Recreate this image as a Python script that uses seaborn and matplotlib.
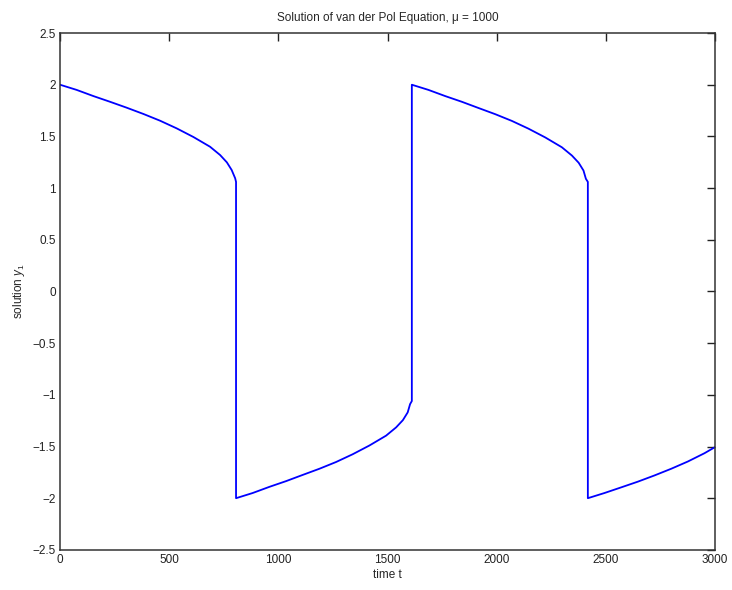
import matplotlib
matplotlib.use('Agg')
from matplotlib import pyplot as plt
import seaborn as sns

# time points and solution y1
# (a repeated t value is one of the near-vertical jumps)
t = [0, 76, 153, 229, 305, 382, 458, 534, 611, 687, 733, 764, 786, 802, 806,
     806, 882, 959, 1035, 1111, 1188, 1264, 1340, 1417, 1493, 1539, 1570, 1592, 1603, 1611,
     1611, 1687, 1764, 1840, 1916, 1993, 2069, 2145, 2222, 2298, 2344, 2375, 2397, 2408, 2417,
     2417, 2493, 2570, 2646, 2722, 2799, 2875, 2951, 3000]
y1 = [2.00, 1.95, 1.89, 1.835, 1.778, 1.717, 1.652, 1.578, 1.494, 1.40, 1.32, 1.249, 1.175, 1.095, 1.06,
      -2.00, -1.95, -1.89, -1.835, -1.775, -1.715, -1.65, -1.575, -1.49, -1.395, -1.315, -1.245, -1.17, -1.09, -1.06,
      2.00, 1.95, 1.89, 1.835, 1.775, 1.715, 1.65, 1.575, 1.49, 1.395, 1.315, 1.245, 1.17, 1.09, 1.06,
      -2.00, -1.95, -1.895, -1.84, -1.78, -1.715, -1.645, -1.565, -1.505]

x_ticks = [0, 500, 1000, 1500, 2000, 2500, 3000]
y_ticks = [-2.5, -2, -1.5, -1, -0.5, 0, 0.5, 1, 1.5, 2, 2.5]
y_labels = ['\u22122.5', '\u22122', '\u22121.5', '\u22121', '\u22120.5', '0',
            '0.5', '1', '1.5', '2', '2.5']

sns.set_style('white')
plt.rcParams['font.family'] = ['Liberation Sans', 'DejaVu Sans']
plt.rcParams['mathtext.fontset'] = 'custom'
plt.rcParams['mathtext.it'] = 'Liberation Sans:italic'
plt.rcParams['mathtext.rm'] = 'Liberation Sans'

fig = plt.figure(figsize=(7.32, 5.90), dpi=100)
ax = fig.add_axes([0.082, 0.068, 0.895, 0.876])

sns.lineplot(x=t, y=y1, sort=False, estimator=None, color='#0000ff',
             linewidth=1.3, ax=ax)

ax.set_xlim(0, 3000)
ax.set_ylim(-2.5, 2.5)
ax.set_xticks(x_ticks)
ax.set_yticks(y_ticks)
ax.set_yticklabels(y_labels)
ax.tick_params(direction='in', length=6, width=1, top=True, right=True,
               labelsize=8.5, colors='#222222', pad=3)
for s in ax.spines.values():
    s.set_visible(True)
    s.set_color('#333333')
    s.set_linewidth(1.1)

ax.set_title('Solution of van der Pol Equation, \u03bc = 1000', fontsize=8.5, pad=9)
ax.set_xlabel('time t', fontsize=8.5, labelpad=2)
ax.set_ylabel('solution $y_1$', fontsize=8.5, labelpad=4)

fig.savefig('out.png', dpi=100)
